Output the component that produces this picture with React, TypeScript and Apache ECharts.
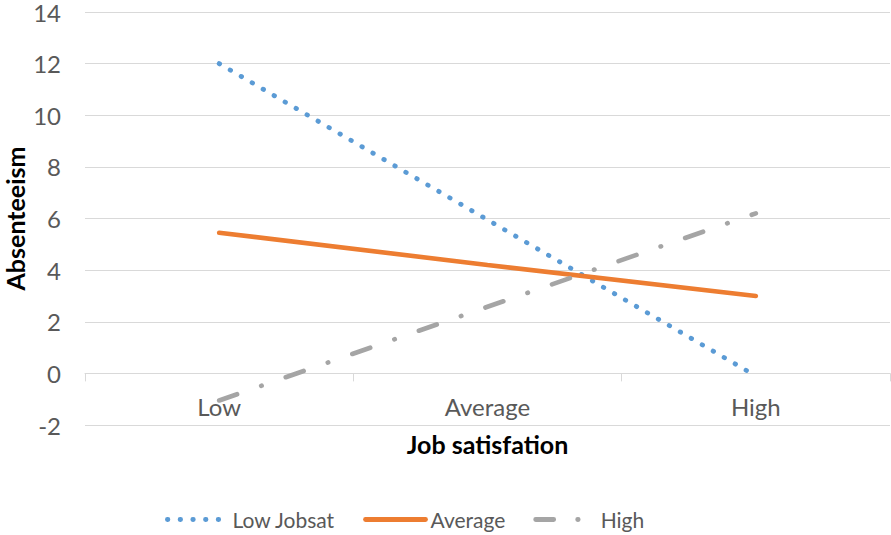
import React, { useEffect, useRef } from "react";
import * as echarts from "echarts";

const categories = ["Low", "Average", "High"];
const lowJobsat = [12, 5.95, -0.1];
const averageJobsat = [5.45, 4.2, 3.0];
const highJobsat = [-1.05, 2.58, 6.2];
const yTicks = { min: -2, max: 14, interval: 2 };
const seriesNames = ["Low Jobsat", "Average", "High"];

const FONT = "Lato";
const BLUE_DASH = [0.5, 12.2];
const GRAY_DASH = [19, 25.5, 0.5, 25.5];

export default function App() {
  const ref = useRef<HTMLDivElement>(null);
  useEffect(() => {
    if (!ref.current) return;
    const chart = echarts.init(ref.current, undefined, { renderer: "svg" });
    chart.setOption({
      animation: false,
      backgroundColor: "#ffffff",
      textStyle: { fontFamily: FONT },
      grid: { left: 85, right: 1, top: 12, bottom: 110, containLabel: false, outerBoundsMode: "none" },
      xAxis: {
        type: "category",
        data: categories,
        boundaryGap: true,
        axisLine: { onZero: true, lineStyle: { color: "#d9d9d9", width: 1 } },
        axisTick: { show: true, inside: false, length: 8, lineStyle: { color: "#d9d9d9" } },
        axisLabel: { color: "#595959", fontSize: 24, fontFamily: FONT, margin: -31 },
        splitLine: { show: false },
        name: "Job satisfation",
        nameLocation: "middle",
        nameGap: 6,
        nameMoveOverlap: false,
        nameTextStyle: { color: "#000000", fontSize: 25, fontWeight: "bold", fontFamily: FONT },
      },
      yAxis: {
        type: "value",
        min: yTicks.min,
        max: yTicks.max,
        interval: yTicks.interval,
        axisLine: { show: false },
        axisTick: { show: false },
        axisLabel: { color: "#595959", fontSize: 24, lineHeight: 20, fontFamily: FONT, margin: 24 },
        splitLine: { show: true, lineStyle: { color: "#d9d9d9", width: 1 } },
        name: "Absenteeism",
        nameLocation: "middle",
        nameRotate: 90,
        nameGap: 58,
        nameMoveOverlap: false,
        nameTextStyle: { color: "#000000", fontSize: 25, fontWeight: "bold", fontFamily: FONT },
      },
      legend: {
        bottom: 3,
        left: 160,
        padding: [5, 5, 2, 5],
        itemWidth: 60,
        itemHeight: 14,
        itemGap: 28,
        itemStyle: { opacity: 0 },
        textStyle: { color: "#595959", fontSize: 21, fontFamily: FONT },
        data: [
          { name: seriesNames[0], lineStyle: { color: "#5B9BD5", width: 4.8, type: BLUE_DASH, cap: "round" } },
          { name: seriesNames[1], lineStyle: { color: "#ED7D31", width: 4.8, type: "solid", cap: "round" } },
          { name: seriesNames[2], lineStyle: { color: "#A5A5A5", width: 4.8, type: [18, 24, 0.5, 25], cap: "round" } },
        ],
      },
      series: [
        {
          name: seriesNames[0],
          type: "line",
          data: lowJobsat,
          symbol: "none",
          lineStyle: { color: "#5B9BD5", width: 4.8, type: BLUE_DASH, cap: "round" },
          itemStyle: { color: "#5B9BD5" },
        },
        {
          name: seriesNames[1],
          type: "line",
          data: averageJobsat,
          symbol: "none",
          lineStyle: { color: "#ED7D31", width: 4.6, type: "solid", cap: "round" },
          itemStyle: { color: "#ED7D31" },
        },
        {
          name: seriesNames[2],
          type: "line",
          data: highJobsat,
          symbol: "none",
          lineStyle: { color: "#A5A5A5", width: 4.6, type: GRAY_DASH, cap: "round" },
          itemStyle: { color: "#A5A5A5" },
        },
      ],
    });
    return () => chart.dispose();
  }, []);
  return (
    <div
      ref={ref}
      style={{ position: "fixed", left: 0, top: 0, width: 891, height: 535 }}
    />
  );
}
